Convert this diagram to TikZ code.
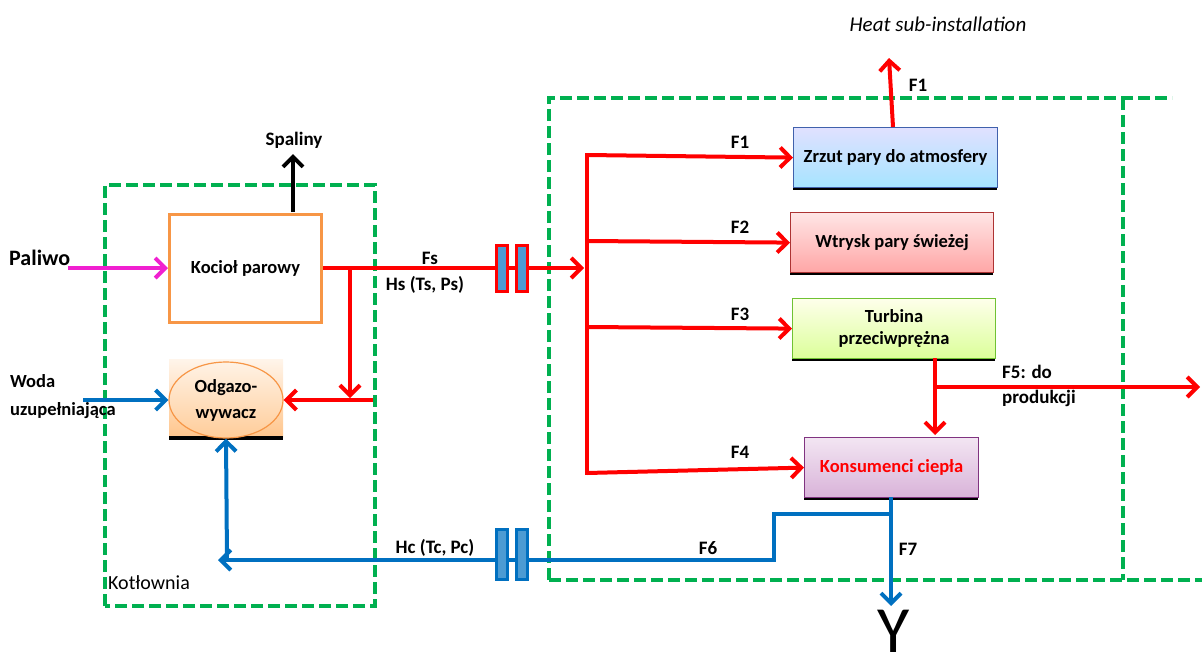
\documentclass[tikz,border=0pt]{standalone}
\usepackage{fontspec}
\setmainfont{Carlito}
\usetikzlibrary{arrows.meta,shapes.geometric}
\definecolor{gr}{HTML}{00B050}
\definecolor{rd}{HTML}{FF0000}
\definecolor{bl}{HTML}{0070C0}
\definecolor{mg}{HTML}{F020D0}
\definecolor{orb}{HTML}{F79646}
\tikzset{
  greenbox/.style={draw=gr,line width=4pt,dash pattern=on 12pt off 5pt},
  redline/.style={draw=rd,line width=4pt},
  blueline/.style={draw=bl,line width=4pt},
  tip/.style={-{Straight Barb[length=10pt,width=20pt,line width=4pt]}},
  lbl/.style={font=\fontsize{19}{22}\selectfont\bfseries,inner sep=0pt},
  flowbox/.style={draw,line width=1.2pt,minimum width=#1,minimum height=60pt,inner sep=0pt,align=center,font=\fontsize{18.5}{22}\selectfont\bfseries},
}
\begin{document}
\begin{tikzpicture}[x=1pt,y=-1pt]
\useasboundingbox (0,0) rectangle (1202,667);
% green boxes
\draw[greenbox] (105,606) -- (105,185) -- (375,185) -- (375,606) -- cycle;
\draw[greenbox] (549,580) -- (549,98) -- (1172,98);
\draw[greenbox] (1123,98) -- (1123,580);
\draw[greenbox] (549,580) -- (1202,580);
% Kociol
\node[draw=orb,line width=3pt,fill=white,minimum width=152pt,minimum height=108pt,inner sep=0pt,font=\fontsize{18.5}{22}\selectfont\bfseries] (kociol) at (245.5,268) {Kocioł parowy};
% Odgazowywacz
\shade[top color=orange!8,bottom color=orange!45!white] (169,359) rectangle (283,437);
\fill[black] (169,436) rectangle (283,440);
\node[ellipse,draw=orb,line width=1.2pt,top color=orange!10,bottom color=orange!40!white,minimum width=114pt,minimum height=76pt,inner sep=0pt,align=center,font=\fontsize{18.5}{26}\selectfont\bfseries] (odg) at (226,400) {Odgazo-\\wywacz};
% inputs
\node[font=\fontsize{22}{24}\selectfont\bfseries,inner sep=0pt,anchor=west] (paliwo) at (9,258) {Paliwo};
\coordinate (palS) at (68,268);
\draw[draw=mg,line width=4pt,tip] (palS) -- (kociol.west);
\node[lbl,anchor=west,font=\fontsize{18.5}{20}\selectfont\bfseries] (woda) at (10,381) {Woda};
\node[lbl,anchor=west,font=\fontsize{18.5}{20}\selectfont\bfseries] (uzup) at (10,411) {uzupełniająca};
\coordinate (wodS) at (83,400);
\draw[blueline,tip] (wodS) -- (odg.west);
% spaliny
\node[lbl] (spal) at (294,140) {Spaliny};
\coordinate (spB) at (293,212);
\coordinate (spT) at (293,154);
\draw[draw=black,line width=4pt,tip] (spB) -- (spT);
% red main line
\node[draw=rd,line width=3pt,fill=bl!70!white,minimum width=11pt,minimum height=46pt,inner sep=0pt] (fl1) at (502,268) {};
\node[draw=rd,line width=3pt,fill=bl!70!white,minimum width=11pt,minimum height=46pt,inner sep=0pt] (fl2) at (522,268) {};
\draw[redline] (kociol.east) -- (fl1.west);
\draw[redline] (fl1.east) -- (fl2.west);
\coordinate (brK) at (350,268);
\coordinate (brKd) at (350,398);
\coordinate (redR) at (373,400);
\draw[redline,tip] (brK) -- (brKd);
\draw[redline,tip] (redR) -- (odg.east);
\node[lbl] (fs) at (430,258) {Fs};
\node[lbl] (hs) at (425,285) {Hs (Ts, Ps)};
% bus
\coordinate (busIn) at (584,268);
\draw[redline,tip] (fl2.east) -- (busIn);
\coordinate (b1) at (587,155);
\coordinate (b2) at (587,241);
\coordinate (b3) at (587,327);
\coordinate (b4) at (587,473);
\draw[redline] (587,153) -- (587,475);
% boxes
\fill[black] (793,186) rectangle (997,190);
\node[flowbox=204pt,draw=bl!60!blue!50!gray,top color=blue!12!white,bottom color=blue!30!cyan!35!white,anchor=north west] (zrzut) at (793,127) {Zrzut pary do atmosfery};
\fill[black] (790,271) rectangle (993,275);
\node[flowbox=203pt,draw=red!60!black!80,top color=red!10!white,bottom color=red!35!white,anchor=north west] (wtrysk) at (790,212) {Wtrysk pary świeżej};
\fill[black] (792,357) rectangle (995,361);
\node[flowbox=203pt,draw=green!40!olive!80,top color=green!6!yellow!8!white,bottom color=green!35!yellow!40!white,anchor=north west] (turb) at (792,298) {Turbina\\przeciwprężna};
\fill[black] (804,496) rectangle (978,500);
\node[flowbox=174pt,draw=violet!60!gray,top color=violet!10!white,bottom color=violet!30!white,anchor=north west,text=rd] (kons) at (804,437) {Konsumenci ciepła};
\draw[redline,tip] (b1) -- (zrzut.west);
\draw[redline,tip] (b2) -- (wtrysk.west);
\draw[redline,tip] (b3) -- (turb.west);
\draw[redline,tip] (b4) -- (kons.west);
\node[lbl] (f1) at (740,142) {F1};
\node[lbl] (f2) at (740,227) {F2};
\node[lbl] (f3) at (740,314) {F3};
\node[lbl] (f4) at (740,452) {F4};
% F1 up
\coordinate (zrT) at (893,127);
\coordinate (f1T) at (889,58);
\draw[redline,tip] (zrT) -- (f1T);
\node[lbl] (f1b) at (918,85) {F1};
\node[font=\fontsize{21}{24}\selectfont\itshape,inner sep=0pt] (heat) at (938,24) {Heat sub-installation};
% turbine outputs
\coordinate (tB) at (935,358);
\coordinate (tJ) at (935,387);
\coordinate (f5E) at (1200,387);
\draw[redline,tip] (tB) -- (935,435);
\draw[redline,tip] (tJ) -- (f5E);
\node[lbl,anchor=west] (f5a) at (1002,372) {F5: do};
\node[lbl,anchor=west] (f5b) at (1002,398) {produkcji};
% blue return
\coordinate (kB) at (891,497);
\coordinate (yT) at (891,606);
\draw[blueline,tip] (kB) -- (yT);
\node[font=\fontsize{66}{66}\selectfont,inner sep=0pt,anchor=base] (ylet) at (894,652) {Y};
\node[lbl] (f7) at (908,549) {F7};
\node[draw=bl,line width=3pt,fill=bl!70!white,minimum width=11pt,minimum height=50pt,inner sep=0pt] (fc1) at (502,554) {};
\node[draw=bl,line width=3pt,fill=bl!70!white,minimum width=11pt,minimum height=50pt,inner sep=0pt] (fc2) at (522,554) {};
\draw[blueline] (891,514) -- (774,514) -- (774,560) -- (fc2.east |- 0,560);
\draw[blueline] (fc2.west |- 0,560) -- (fc1.east |- 0,560);
\draw[blueline,tip] (fc1.west |- 0,560) -- (218,560);
\draw[blueline,tip] (227,560) -- (odg.south);
\node[lbl] (f6) at (708,548) {F6};
\node[lbl] (hc) at (435,548) {Hc (Tc, Pc)};
\node[font=\fontsize{20}{22}\selectfont,inner sep=0pt,anchor=west] (kot) at (108,583) {Kotłownia};
\end{tikzpicture}
\end{document}
